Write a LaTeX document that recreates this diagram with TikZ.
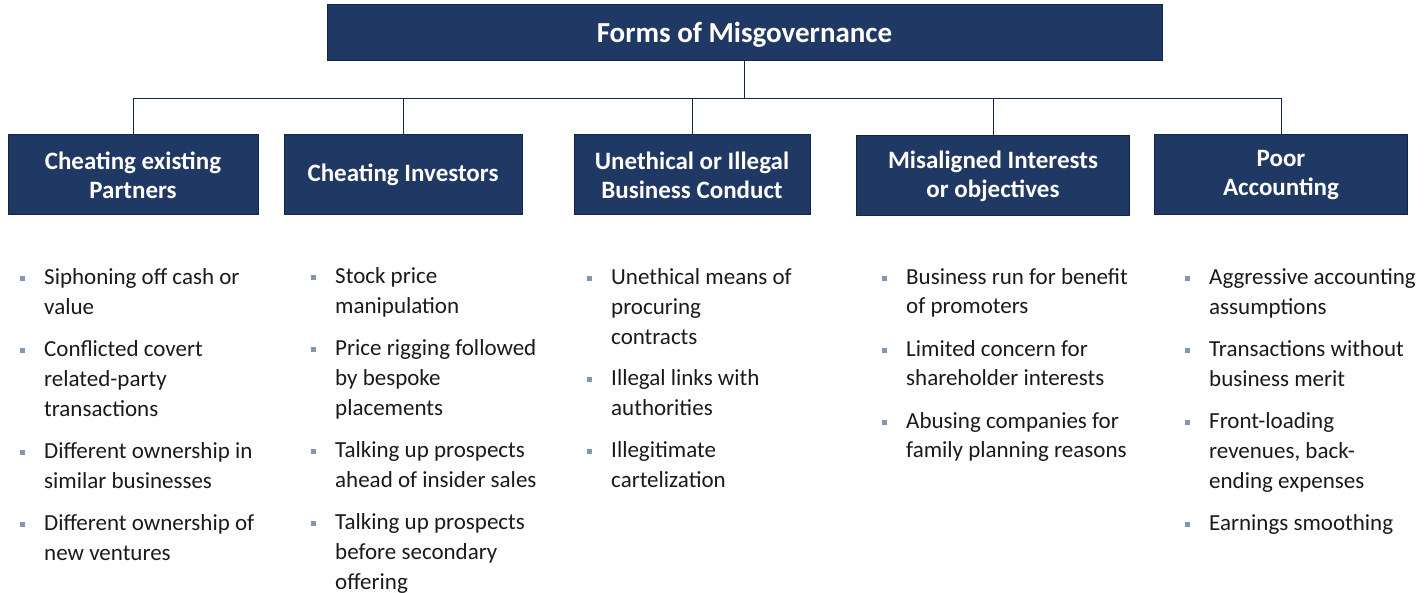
\documentclass[tikz,border=0pt]{standalone}
\usepackage{fontspec}
\setmainfont{Carlito}
\definecolor{navy}{HTML}{203864}
\definecolor{navyline}{HTML}{13254A}
\definecolor{bulletgray}{HTML}{8497B0}
\definecolor{textgray}{HTML}{1A1A1A}
\newcommand{\bsq}{\llap{\textcolor{bulletgray}{\rule[3.5pt]{5pt}{5pt}}\hspace{19.5pt}}}

\begin{document}
\begin{tikzpicture}[x=1pt,y=-1pt,%
      head/.style={draw=navyline,line width=1pt,fill=navy,text=white,%
        font=\fontsize{29}{34}\selectfont\bfseries,%
        text height=20pt,text depth=0pt,%
        minimum width=835pt,minimum height=56pt,inner sep=0pt},%
      form/.style={draw=navyline,line width=1pt,fill=navy,text=white,%
        align=center,font=\fontsize{25}{29}\selectfont\bfseries,%
        minimum height=80pt,inner sep=0pt},%
      items/.style={anchor=north west,align=left,inner sep=0pt,%
        text=textgray,font=\fontsize{23}{30}\selectfont},%
      link/.style={draw=navyline,line width=0.8pt}%
      ]
      \useasboundingbox (0,0) rectangle (1428,593);%
      %% create nodes
      \node[head] (forms) at (744.5,33) {Forms of Misgovernance};%
      \node[form,minimum width=250pt] (partners) at (133,175)
      {Cheating existing\\Partners};%
      \node[form,minimum width=238pt] (investors) at (403,175)
      {Cheating Investors};%
      \node[form,minimum width=236pt] (conduct) at (692,175)
      {Unethical or Illegal\\Business Conduct};%
      \node[form,minimum width=273pt] (interests) at (993,176)
      {Misaligned Interests\\or objectives};%
      \node[form,minimum width=253pt] (accounting) at (1281,175)
      {Poor\\Accounting};%
      \coordinate (bus) at (744.5,98);%
      %% draw tree
      \foreach \x in {partners,investors,conduct,interests,accounting} {%
        \draw[link] (forms.south) -- (bus) -| (\x.north);%
      }%
      %% bullet lists
      \node[items] (partnerlist) at (44,268) {%
        \bsq Siphoning off cash or\\ value\\[12pt]
        \bsq Conflicted covert\\ related-party\\ transactions\\[12pt]
        \bsq Different ownership in\\ similar businesses\\[12pt]
        \bsq Different ownership of\\ new ventures};%
      \node[items] (investorlist) at (335,267) {%
        \bsq Stock price\\ manipulation\\[12pt]
        \bsq Price rigging followed\\ by bespoke\\ placements\\[12pt]
        \bsq Talking up prospects\\ ahead of insider sales\\[12pt]
        \bsq Talking up prospects\\ before secondary\\ offering};%
      \node[items] (conductlist) at (611,268) {%
        \bsq Unethical means of\\ procuring\\ contracts\\[11pt]
        \bsq Illegal links with\\ authorities\\[12pt]
        \bsq Illegitimate\\ cartelization};%
      \node[items,font=\fontsize{23}{29}\selectfont] (interestlist) at (906,268) {%
        \bsq Business run for benefit\\ of promoters\\[14pt]
        \bsq Limited concern for\\ shareholder interests\\[14pt]
        \bsq Abusing companies for\\ family planning reasons};%
      \node[items] (accountlist) at (1209,268) {%
        \bsq Aggressive accounting\\ assumptions\\[12pt]
        \bsq Transactions without\\ business merit\\[12pt]
        \bsq Front-loading\\ revenues, back-\\ ending expenses\\[12pt]
        \bsq Earnings smoothing};%
    \end{tikzpicture}
\end{document}
